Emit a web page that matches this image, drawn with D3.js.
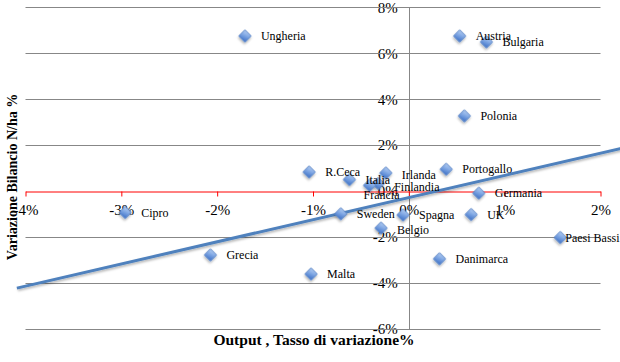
<!DOCTYPE html>
<html>
<head>
<meta charset="utf-8">
<script src="https://cdn.jsdelivr.net/npm/d3@7/dist/d3.min.js"></script>
<style>
  body { margin: 0; background: #fff; }
  text { font-family: "Liberation Serif", "DejaVu Serif", serif; }
</style>
</head>
<body>
<div id="grafico"></div>
<script>
// Dati: output (asse x) e variazione bilancio N/ha (asse y), in %
const paesi = ["Ungheria", "Austria", "Bulgaria", "Polonia", "R.Ceca", "Irlanda", "Italia",
  "Portogallo", "Finlandia", "Francia", "Germania", "Cipro", "Sweden", "Spagna", "UK",
  "Belgio", "Paesi Bassi", "Grecia", "Danimarca", "Malta"];
const output = [-1.71, 0.53, 0.81, 0.58, -1.04, -0.24, -0.62, 0.39, -0.32, -0.41, 0.73,
  -2.96, -0.71, -0.06, 0.65, -0.29, 1.58, -2.07, 0.32, -1.02];
const bilancio = [6.75, 6.75, 6.49, 3.27, 0.83, 0.79, 0.50, 0.95, 0.33, 0.25, -0.09,
  -0.93, -0.99, -1.04, -1.02, -1.61, -2.02, -2.78, -2.95, -3.61];

// Linea di tendenza (estremi)
const tendenzaX = [-4.09, 2.25];
const tendenzaY = [-4.22, 1.89];

// Tacche degli assi
const tickX = [-4, -3, -2, -1, 0, 1, 2];
const tickY = [-6, -4, -2, 0, 2, 4, 6, 8];

const ancho = 620;
const alto = 362;

const svg = d3.select("#grafico")
  .append("svg")
  .attr("width", ancho)
  .attr("height", alto);

const defs = svg.append("defs");
const grad = defs.append("linearGradient")
  .attr("id", "rombo")
  .attr("x1", "0").attr("y1", "0").attr("x2", "0.4").attr("y2", "1");
grad.append("stop").attr("offset", "0%").attr("stop-color", "#b9d1f4");
grad.append("stop").attr("offset", "55%").attr("stop-color", "#7ea6e3");
grad.append("stop").attr("offset", "100%").attr("stop-color", "#4f7fcf");

const ombra = defs.append("filter").attr("id", "ombra")
  .attr("x", "-50%").attr("y", "-50%").attr("width", "200%").attr("height", "200%");
ombra.append("feDropShadow")
  .attr("dx", 1).attr("dy", 1.5).attr("stdDeviation", 1)
  .attr("flood-color", "#000").attr("flood-opacity", 0.3);

const x = d3.scaleLinear().domain([-4, 2]).range([25.5, 600.5]);
const y = d3.scaleLinear().domain([-6, 8]).range([329, 7.3]);

// Griglia orizzontale ed etichette asse y
const assey = svg.append("g")
  .attr("transform", `translate(${x(0)},0)`)
  .call(d3.axisLeft(y).tickValues(tickY).tickSize(0).tickPadding(11)
    .tickFormat(d => d + "%"));
assey.select(".domain").remove();
assey.selectAll("text").style("font-size", "15px").attr("fill", "#000");

svg.append("g")
  .selectAll("line")
  .data(tickY.filter(d => d !== 0))
  .enter()
  .append("line")
  .attr("x1", x(-4))
  .attr("x2", x(2))
  .attr("y1", d => Math.round(y(d)) + 0.5)
  .attr("y2", d => Math.round(y(d)) + 0.5)
  .attr("stroke", "#878787")
  .attr("stroke-width", 1);

// Asse verticale grigio
svg.append("line")
  .attr("x1", Math.round(x(0)) + 0.5)
  .attr("x2", Math.round(x(0)) + 0.5)
  .attr("y1", y(8))
  .attr("y2", y(-6))
  .attr("stroke", "#878787");

// Asse x rosso con tacche
const assex = svg.append("g")
  .attr("transform", `translate(0,${Math.round(y(0)) + 0.5})`)
  .call(d3.axisBottom(x).tickValues(tickX).tickSizeOuter(0).tickSizeInner(5).tickPadding(8)
    .tickFormat(d => d + "%"));
assex.select(".domain").attr("stroke", "#ff0000");
assex.selectAll(".tick line").attr("stroke", "#ff0000");
assex.selectAll("text").style("font-size", "15px").attr("fill", "#000");

// Linea di tendenza
svg.append("path")
  .datum(tendenzaX.map((v, i) => ({ x: v, y: tendenzaY[i] })))
  .attr("fill", "none")
  .attr("stroke", "#4f81bd")
  .attr("stroke-width", 3)
  .attr("filter", "url(#ombra)")
  .attr("d", d3.line().x(d => x(d.x)).y(d => y(d.y)));

const punti = paesi.map((p, i) => ({ paese: p, x: output[i], y: bilancio[i] }));

// Rombi
svg.selectAll(".punto")
  .data(punti)
  .enter()
  .append("path")
  .attr("class", "punto")
  .attr("d", d3.symbol(d3.symbolSquare, 74))
  .attr("transform", d => `translate(${x(d.x)},${y(d.y)}) rotate(45)`)
  .attr("fill", "url(#rombo)")
  .attr("stroke", "#5a86c8")
  .attr("stroke-width", 0.8)
  .attr("filter", "url(#ombra)");

// Etichette dei paesi (spostamenti particolari dove Excel le ha spostate)
const spostamenti = { "Francia": [-6, 9], "Finlandia": [16, 3], "Paesi Bassi": [5, 0], "Irlanda": [16, 2], "Belgio": [16, 2] };
svg.selectAll(".etichetta")
  .data(punti)
  .enter()
  .append("text")
  .attr("class", "etichetta")
  .attr("x", d => x(d.x) + (spostamenti[d.paese] ? spostamenti[d.paese][0] : 16))
  .attr("y", d => y(d.y) + (spostamenti[d.paese] ? spostamenti[d.paese][1] : 0))
  .attr("dy", "0.35em")
  .style("font-size", "12px")
  .text(d => d.paese);

// Titoli degli assi
svg.append("text")
  .attr("x", 314)
  .attr("y", 345)
  .attr("text-anchor", "middle")
  .style("font-size", "15.5px")
  .style("font-weight", "bold")
  .text("Output , Tasso di variazione%");

svg.append("text")
  .attr("transform", "translate(17,177) rotate(-90)")
  .attr("text-anchor", "middle")
  .style("font-size", "14px")
  .style("font-weight", "bold")
  .text("Variazione Bilancio N/ha %");
</script>
</body>
</html>
